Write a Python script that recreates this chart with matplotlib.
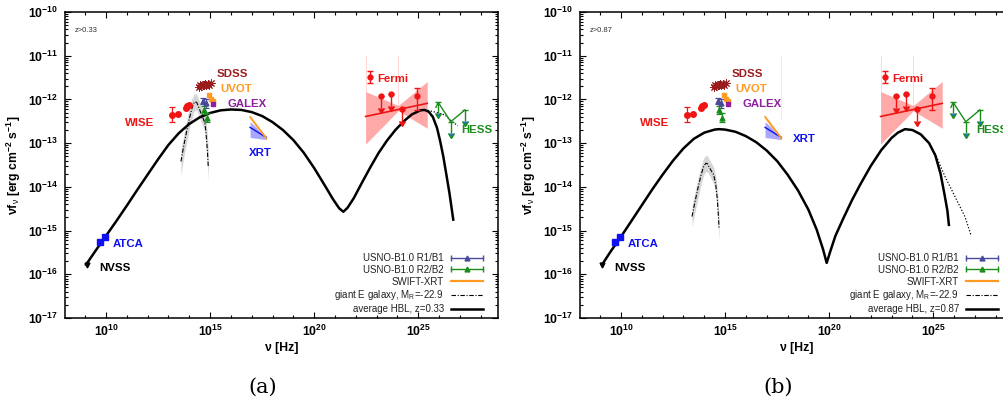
import numpy as np
import matplotlib
matplotlib.use('Agg')
import matplotlib.pyplot as plt
from matplotlib.lines import Line2D
from matplotlib.legend_handler import HandlerLine2D
from matplotlib.ticker import FixedLocator, FuncFormatter, NullFormatter

plt.rcParams['font.family'] = ['Liberation Sans', 'DejaVu Sans']
plt.rcParams['mathtext.fontset'] = 'custom'
plt.rcParams['mathtext.rm'] = 'Liberation Sans'
plt.rcParams['mathtext.bf'] = 'Liberation Sans:bold'
plt.rcParams['mathtext.it'] = 'Liberation Sans:italic'

# all values are log10(nu / Hz) and log10(nuFnu / erg cm^-2 s^-1)

# --- observed data (same in both panels) ---
nvss_x = [9.08]
nvss_y = [-15.78]

atca_x = [9.72, 9.97]
atca_y = [-15.27, -15.15]

wise_x = [13.15, 13.44, 13.83, 13.90, 13.98]
wise_y = [-12.35, -12.34, -12.19, -12.16, -12.12]
wise_err = [0.17, 0.0, 0.0, 0.0, 0.0]

sdss_x = [14.45, 14.52, 14.58, 14.64, 14.70, 14.76, 14.82, 14.88, 14.95, 15.02]
sdss_y = [-11.71, -11.68, -11.70, -11.66, -11.68, -11.65, -11.67, -11.64, -11.66, -11.63]

usno1_x = [14.68, 14.80]
usno1_y = [-12.04, -12.09]
usno1_err = [0.07, 0.10]

usno2_x = [14.70, 14.86]
usno2_y = [-12.25, -12.42]
usno2_err = [0.09, 0.10]

uvot_x = [14.93, 15.04, 15.12]
uvot_y = [-11.90, -11.98, -12.03]

galex_x = [15.16]
galex_y = [-12.11]

xrt_x = [16.92, 17.70]
xrt_soft_y = [-12.40, -12.89]
xrt_soft_lo = [-12.45, -12.93]
xrt_soft_hi = [-12.36, -12.85]
xrt_hard_y = [-12.64, -12.87]
xrt_hard_lo = [-12.87, -12.92]
xrt_hard_hi = [-12.51, -12.84]

fermi_x = [22.68, 24.95]
fermi_y = [-11.49, -11.92]
fermi_err_lo = [0.14, 0.32]
fermi_err_hi = [0.13, 0.18]

fermi_ul_x = [23.19, 23.69, 24.20]
fermi_ul_y = [-11.93, -11.87, -12.22]

fermi_bt_x = [22.47, 24.04, 25.43]
fermi_bt_hi = [-11.82, -12.14, -11.59]
fermi_bt_lo = [-13.02, -12.26, -12.66]
fermi_line_x = [22.47, 25.43]
fermi_line_y = [-12.39, -12.09]

hess_x = [25.85, 25.96, 26.56, 27.24]
hess_y = [-12.18, -12.07, -12.51, -12.24]
hess_ul_x = [25.96, 26.56, 27.24]
hess_ul_y = [-12.07, -12.51, -12.24]

# --- models, panel (a) z=0.33 ---
hbl_a_x = [9.04, 9.5, 10.0, 10.5, 11.0, 11.5, 12.0, 12.5, 13.0, 13.5, 14.0, 14.5, 15.0,
           15.5, 16.0, 16.5, 17.0, 17.5, 18.0, 18.5, 19.0, 19.5, 20.0, 20.5, 20.9, 21.2,
           21.4, 21.6, 21.9, 22.3, 22.7, 23.1, 23.5, 23.9, 24.3, 24.7, 25.1, 25.3, 25.5,
           25.7, 25.9, 26.05, 26.2, 26.35, 26.5, 26.6, 26.68]
hbl_a_y = [-15.78, -15.46, -15.12, -14.78, -14.43, -14.07, -13.72, -13.37, -13.04, -12.77,
           -12.56, -12.41, -12.31, -12.25, -12.23, -12.24, -12.29, -12.38, -12.52, -12.70,
           -12.93, -13.22, -13.57, -13.96, -14.28, -14.49, -14.57, -14.48, -14.26, -13.90,
           -13.55, -13.22, -12.94, -12.70, -12.50, -12.34, -12.25, -12.24, -12.28, -12.40,
           -12.65, -12.95, -13.30, -13.72, -14.15, -14.48, -14.75]

gal_a_x = [13.60, 13.70, 13.80, 13.92, 14.03, 14.12, 14.20, 14.28, 14.36, 14.47, 14.59,
           14.68, 14.75, 14.80, 14.84, 14.88, 14.91]
gal_a_y = [-13.42, -13.15, -12.90, -12.62, -12.39, -12.22, -12.10, -12.05, -12.07, -12.20,
           -12.35, -12.45, -12.54, -12.75, -12.98, -13.25, -13.53]
gal_a_hi = [-13.15, -12.90, -12.65, -12.37, -12.15, -11.99, -11.90, -11.86, -11.89, -12.02,
            -12.17, -12.27, -12.33, -12.45, -12.65, -12.90, -13.15]
gal_a_lo = [-13.75, -13.42, -13.15, -12.87, -12.63, -12.45, -12.30, -12.24, -12.25, -12.38,
            -12.53, -12.63, -12.76, -13.05, -13.30, -13.60, -13.90]

dot_a_x = [25.30, 25.45, 25.9, 26.3, 26.6, 26.9]
dot_a_y = [-12.24, -12.25, -12.30, -12.36, -12.50, -12.60]

# --- models, panel (b) z=0.87 ---
hbl_b_x = [9.09, 9.5, 10.0, 10.5, 11.0, 11.5, 12.0, 12.5, 13.0, 13.5, 14.0, 14.5, 14.7,
           15.0, 15.5, 16.0, 16.5, 17.0, 17.5, 18.0, 18.5, 19.0, 19.4, 19.7, 19.88, 20.05,
           20.3, 20.7, 21.1, 21.5, 22.0, 22.5, 23.0, 23.3, 23.64, 24.0, 24.4, 24.8, 25.1,
           25.35, 25.55, 25.68, 25.75]
hbl_b_y = [-15.78, -15.48, -15.14, -14.78, -14.42, -14.06, -13.72, -13.40, -13.12, -12.90,
           -12.76, -12.69, -12.68, -12.69, -12.74, -12.84, -12.98, -13.17, -13.41, -13.72,
           -14.08, -14.52, -14.98, -15.42, -15.74, -15.48, -15.12, -14.70, -14.30, -13.94,
           -13.52, -13.16, -12.88, -12.76, -12.68, -12.70, -12.80, -13.00, -13.28, -13.70,
           -14.20, -14.55, -14.87]

gal_b_x = [13.41, 13.55, 13.70, 13.85, 13.98, 14.08, 14.15, 14.25, 14.37, 14.45, 14.55,
           14.62, 14.67, 14.71]
gal_b_y = [-14.68, -14.35, -14.02, -13.72, -13.52, -13.46, -13.47, -13.56, -13.66, -13.72,
           -13.95, -14.25, -14.60, -14.95]
gal_b_hi = [-14.45, -14.12, -13.80, -13.52, -13.33, -13.28, -13.29, -13.38, -13.48, -13.55,
            -13.75, -14.02, -14.35, -14.65]
gal_b_lo = [-14.92, -14.58, -14.25, -13.93, -13.72, -13.65, -13.66, -13.74, -13.85, -13.92,
            -14.18, -14.50, -14.88, -15.25]

dot_b_x = [25.08, 25.56, 26.04, 26.52, 26.81]
dot_b_y = [-13.23, -13.76, -14.22, -14.68, -15.10]

RED = '#f01414'
BLUE = '#1010f0'
GREEN = '#1a8c1a'
ORANGE = '#ff9a22'
PURPLE = '#8e1f9e'
DARKRED = '#9b1c1c'
SLATE = '#4a4a9a'


def p(v):
    return 10 ** np.asarray(v, dtype=float)


def err_pair(y, lo, hi):
    y = np.asarray(y, dtype=float)
    return [p(y) - p(y - np.asarray(lo)), p(y + np.asarray(hi)) - p(y)]


def draw_panel(ax, hbl_x, hbl_y, gal_x, gal_y, gal_lo, gal_hi, dot_x, dot_y, ztag, xrt_pos):
    ax.set_xscale('log')
    ax.set_yscale('log')

    # galaxy template with its band
    ax.fill_between(p(gal_x), p(gal_lo), p(gal_hi), color='#d6d6d6', lw=0, zorder=1)
    ax.plot(p(gal_x), p(gal_y), color='k', lw=0.8, dashes=(4, 1.5, 1, 1.5), zorder=2)

    # faint guide lines from the original plot
    ax.plot(p([fermi_bt_x[0], fermi_bt_x[0]]), p([-11.0, fermi_bt_hi[0]]), color='#ffd8d8', lw=0.7, zorder=1)
    ax.plot(p([fermi_bt_x[1], fermi_bt_x[1]]), p([-11.0, fermi_bt_hi[1]]), color='#ffd8d8', lw=0.7, zorder=1)

    # Fermi bowtie
    ax.fill_between(p(fermi_bt_x), p(fermi_bt_lo), p(fermi_bt_hi), color='#ff9a9a', alpha=0.85, lw=0, zorder=1)
    ax.plot(p(fermi_line_x), p(fermi_line_y), color=RED, lw=1.2, zorder=3)

    # XRT
    ax.fill_between(p(xrt_x), p(xrt_hard_lo), p(xrt_hard_hi), color='#a8a8ff', lw=0, zorder=2)
    ax.fill_between(p(xrt_x), p(xrt_soft_lo), p(xrt_soft_hi), color='#ffd49a', lw=0, zorder=2)
    ax.plot(p(xrt_x), p(xrt_hard_y), color=BLUE, lw=1.0, zorder=3)
    ax.plot(p(xrt_x), p(xrt_soft_y), color=ORANGE, lw=1.2, zorder=3)

    # model curves
    ax.plot(p(dot_x), p(dot_y), color='k', lw=0.9, ls=(0, (1, 1.5)), zorder=3)
    ax.plot(p(hbl_x), p(hbl_y), color='k', lw=1.8, zorder=4)

    # radio
    ax.plot(p(nvss_x), p(nvss_y), 'v', color='k', ms=3.5, zorder=5)
    ax.plot(p(atca_x), p(atca_y), 's', color=BLUE, ms=5, zorder=5)

    # WISE
    ax.errorbar(p(wise_x), p(wise_y), yerr=err_pair(wise_y, wise_err, wise_err),
                fmt='o', color=RED, ms=4, capsize=2, elinewidth=0.9, capthick=0.9, zorder=5)
    ax.plot(p(wise_x[:2]), p(wise_y[:2]), color=RED, lw=0.9, zorder=5)

    # SDSS
    ax.plot(p(sdss_x), p(sdss_y), ls='none', marker=(8, 2, 0), color=DARKRED, ms=6, mew=0.7, zorder=5)

    # USNO
    ax.errorbar(p(usno1_x), p(usno1_y), yerr=err_pair(usno1_y, usno1_err, usno1_err),
                fmt='^', color=SLATE, ms=3.5, capsize=2, elinewidth=0.9, capthick=0.9, zorder=5)
    ax.errorbar(p(usno2_x), p(usno2_y), yerr=err_pair(usno2_y, usno2_err, usno2_err),
                fmt='^', color=GREEN, ms=3.5, capsize=2, elinewidth=0.9, capthick=0.9, zorder=5)

    # UVOT, GALEX
    ax.plot(p(uvot_x), p(uvot_y), 's', color=ORANGE, ms=3.4, zorder=5)
    ax.plot(p(galex_x), p(galex_y), 's', color=PURPLE, ms=3.4, zorder=5)

    # Fermi points and upper limits
    ax.errorbar(p(fermi_x), p(fermi_y), yerr=err_pair(fermi_y, fermi_err_lo, fermi_err_hi),
                fmt='o', color=RED, ms=3.5, capsize=2, elinewidth=1.0, capthick=1.0, zorder=5)
    ul = [0.27] * len(fermi_ul_x)
    ax.errorbar(p(fermi_ul_x), p(fermi_ul_y), yerr=[p(fermi_ul_y) - p(np.array(fermi_ul_y) - ul), np.zeros(len(ul))],
                uplims=True, fmt='o', color=RED, ms=3.5, capsize=2.2, elinewidth=1.0, zorder=5)

    # HESS
    ax.plot(p(hess_x), p(hess_y), color=GREEN, lw=1.0, zorder=5)
    hl = [0.25] * len(hess_ul_x)
    ax.errorbar(p(hess_ul_x), p(hess_ul_y), yerr=[p(hess_ul_y) - p(np.array(hess_ul_y) - hl), np.zeros(len(hl))],
                uplims=True, fmt='none', ecolor=GREEN, capsize=2.2, elinewidth=1.0, zorder=5)

    # labels
    kw = dict(fontsize=8.2, fontweight='bold', va='center')
    ax.text(p(11.63), p(-12.54), 'WISE', color=RED, ha='center', **kw)
    ax.text(p(16.07), p(-11.42), 'SDSS', color=DARKRED, ha='center', **kw)
    ax.text(p(16.24), p(-11.76), 'UVOT', color=ORANGE, ha='center', **kw)
    ax.text(p(16.80), p(-12.10), 'GALEX', color=PURPLE, ha='center', **kw)
    ax.text(p(xrt_pos[0]), p(xrt_pos[1]), 'XRT', color=BLUE, ha='center', **kw)
    ax.text(p(23.05), p(-11.54), 'Fermi', color=RED, ha='left', **kw)
    ax.text(p(27.06), p(-12.70), 'HESS', color=GREEN, ha='left', **kw)
    ax.text(p(11.07), p(-15.30), 'ATCA', color=BLUE, ha='center', **kw)
    ax.text(p(10.43), p(-15.85), 'NVSS', color='k', ha='center', **kw)
    ax.text(0.023, 0.938, 'z>' + ztag, transform=ax.transAxes, fontsize=5.5, color='#333333', va='center')

    # axes
    ax.set_xlim(p(8.03), p(28.83))
    ax.set_ylim(1e-17, 1e-10)
    ax.xaxis.set_major_locator(FixedLocator([1e10, 1e15, 1e20, 1e25]))
    ax.xaxis.set_minor_locator(FixedLocator(10.0 ** np.arange(8, 29)))
    ax.yaxis.set_major_locator(FixedLocator(10.0 ** np.arange(-17, -9)))
    ax.yaxis.set_minor_locator(FixedLocator([m * 10.0 ** e for e in range(-17, -10) for m in range(2, 10)]))
    fmt = FuncFormatter(lambda v, pos: r'$\mathbf{10^{%d}}$' % int(round(np.log10(v))))
    ax.xaxis.set_major_formatter(fmt)
    ax.yaxis.set_major_formatter(fmt)
    ax.xaxis.set_minor_formatter(NullFormatter())
    ax.yaxis.set_minor_formatter(NullFormatter())
    ax.tick_params(which='both', direction='in', top=True, right=True, width=0.8, labelsize=8.8)
    ax.tick_params(which='major', length=4.5)
    ax.tick_params(which='minor', length=2.2)
    ax.tick_params(axis='x', pad=4)
    ax.tick_params(axis='y', pad=5)
    for s in ax.spines.values():
        s.set_linewidth(1.1)

    ax.set_xlabel('ν [Hz]', fontsize=8.8, fontweight='bold')
    ax.set_ylabel(r'νf$_{\mathrm{ν}}$ [erg cm$^{\mathbf{-2}}$ s$^{\mathbf{-1}}$]', fontsize=8.8, fontweight='bold')
    ax.xaxis.set_label_coords(0.5, -0.078)
    ax.yaxis.set_label_coords(-0.097, 0.5)

    # legend
    cap1 = Line2D([], [], color=SLATE, lw=1.0, marker='|', ms=5, mew=1.0)
    tri1 = Line2D([], [], color=SLATE, ls='none', marker='^', ms=3.5)
    cap2 = Line2D([], [], color=GREEN, lw=1.0, marker='|', ms=5, mew=1.0)
    tri2 = Line2D([], [], color=GREEN, ls='none', marker='^', ms=3.5)
    h_xrt = Line2D([], [], color=ORANGE, lw=1.6)
    h_gal = Line2D([], [], color='k', lw=0.8, dashes=(4, 1.5, 1, 1.5))
    h_hbl = Line2D([], [], color='k', lw=1.8)
    labels = ['USNO-B1.0 R1/B1', 'USNO-B1.0 R2/B2', 'SWIFT-XRT',
              r'giant E galaxy, M$_\mathrm{R}$=-22.9', 'average HBL, z=' + ztag]
    leg = ax.legend([(cap1, tri1), (cap2, tri2), h_xrt, h_gal, h_hbl], labels,
                    handler_map={cap1: HandlerLine2D(numpoints=2, marker_pad=0),
                                 cap2: HandlerLine2D(numpoints=2, marker_pad=0)},
                    loc='lower right', bbox_to_anchor=(0.965, 0.013), borderaxespad=0, borderpad=0,
                    frameon=False, markerfirst=False, fontsize=7.0, handlelength=3.3,
                    handletextpad=0.7, labelspacing=0.18)
    for t in leg.get_texts():
        t.set_color('#222222')


fig = plt.figure(figsize=(10.04, 4.03), dpi=100)
ax_a = fig.add_axes([65 / 1004, 85 / 403, 433 / 1004, 306 / 403])
ax_b = fig.add_axes([580 / 1004, 85 / 403, 433 / 1004, 306 / 403])

draw_panel(ax_a, hbl_a_x, hbl_a_y, gal_a_x, gal_a_y, gal_a_lo, gal_a_hi, dot_a_x, dot_a_y, '0.33', (17.43, -13.23))
draw_panel(ax_b, hbl_b_x, hbl_b_y, gal_b_x, gal_b_y, gal_b_lo, gal_b_hi, dot_b_x, dot_b_y, '0.87', (18.81, -12.91))
ax_b.plot(p([17.69, 17.69]), p([-11.02, -12.45]), color='#ececec', lw=0.7, zorder=0)

fig.text(263 / 1004, 1 - 387 / 403, '(a)', fontsize=15, family='DejaVu Serif', ha='center', va='center')
fig.text(778 / 1004, 1 - 387 / 403, '(b)', fontsize=15, family='DejaVu Serif', ha='center', va='center')

fig.savefig('out.png', dpi=100)
